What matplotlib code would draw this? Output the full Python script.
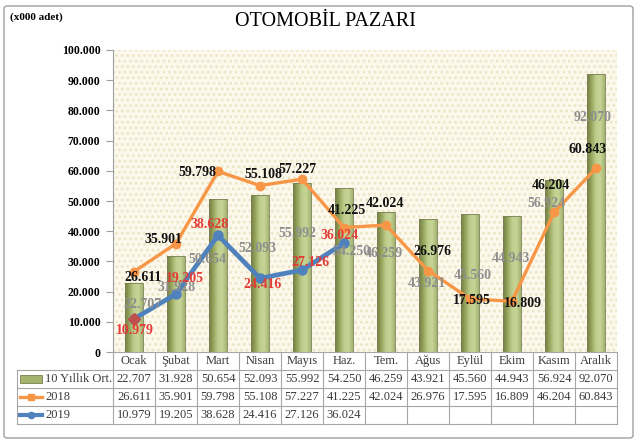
import matplotlib
matplotlib.use("Agg")
import matplotlib.pyplot as plt
import matplotlib.transforms as mtransforms
import numpy as np
from matplotlib.colors import LinearSegmentedColormap
from matplotlib.lines import Line2D
from matplotlib.patches import FancyBboxPatch, Rectangle

plt.rcParams["font.family"] = ["Liberation Serif", "DejaVu Serif"]
plt.rcParams["hatch.linewidth"] = 1.2

months = ["Ocak", "Şubat", "Mart", "Nisan", "Mayıs", "Haz.",
          "Tem.", "Ağus", "Eylül", "Ekim", "Kasım", "Aralık"]
series_names = ["10 Yıllık Ort.", "2018", "2019"]
avg_10y = [22707, 31928, 50654, 52093, 55992, 54250,
           46259, 43921, 45560, 44943, 56924, 92070]
sales_2018 = [26611, 35901, 59798, 55108, 57227, 41225,
              42024, 26976, 17595, 16809, 46204, 60843]
sales_2019 = [10979, 19205, 38628, 24416, 27126, 36024]

# where the data labels were dragged to in the original (x in category units, y in data units)
avg_label_pos = [(0.21, 15600), (1.02, 21200), (1.74, 30500), (2.95, 34400),
                 (3.88, 39400), (5.19, 33400), (5.95, 32600), (6.98, 22800),
                 (8.07, 25200), (8.98, 31100), (9.81, 49300), (10.93, 77500)]
label_pos_2018 = [(0.21, 24800), (0.69, 37100), (1.52, 59300), (3.07, 58900),
                  (3.90, 60300), (5.07, 47000), (5.98, 49300), (7.10, 33400),
                  (8.05, 17200), (9.26, 15900), (9.93, 55000), (10.81, 67200)]
label_pos_2019 = [(0.02, 7000), (1.21, 24500), (1.81, 42100), (3.05, 22500),
                  (4.19, 29800), (4.90, 38700)]

ORANGE = "#F79646"
BLUE = "#4F81BD"
RED_TXT = "#E23B36"
GRAY_TXT = "#8E8E8E"
EDGE = "#A6A6A6"
TABLE_TXT = "#3A3A3A"


def fmt(v):
    return f"{v:,.0f}".replace(",", ".")


fig = plt.figure(figsize=(6.4, 4.44), dpi=100)
fig.patches.append(FancyBboxPatch((4 / 640, 6 / 444), 629 / 640, 432 / 444,
                                  boxstyle="round,pad=0,rounding_size=0.006",
                                  transform=fig.transFigure, facecolor="white",
                                  edgecolor="#A0A0A0", linewidth=1.0, zorder=-10))

ax = fig.add_axes([113 / 640, 92 / 444, 504 / 640, 302 / 444])
ax.set_facecolor("#FCF9EC")
ax.add_patch(Rectangle((0, 0), 1, 1, transform=ax.transAxes, facecolor="none",
                       edgecolor="#ECE5C6", hatch="...", linewidth=0, zorder=0))

x = np.arange(len(months))
cmap = LinearSegmentedColormap.from_list(
    "olive", ["#737C42", "#97A65E", "#BFCE8C", "#C6D497", "#A3B470"])
grad = np.linspace(0, 1, 64).reshape(1, -1)
bars = ax.bar(x, avg_10y, width=0.41, color="none", edgecolor="#7B7F55",
              linewidth=0.6, zorder=2)
for b in bars:
    im = ax.imshow(grad, cmap=cmap, aspect="auto", zorder=1.9,
                   extent=[b.get_x(), b.get_x() + b.get_width(), 0, b.get_height()])
    im.set_clip_path(b)

ax.plot(x, sales_2018, color=ORANGE, linewidth=2.4, marker="o", markersize=6,
        zorder=3, solid_capstyle="round")
x19 = x[:len(sales_2019)]
ax.plot(x19, sales_2019, color=BLUE, linewidth=3.4, marker="o", markersize=6.5,
        zorder=4, solid_capstyle="round")
ax.plot(x19[:1], sales_2019[:1], linestyle="none", marker="D", markersize=6,
        color="#C0504D", zorder=5)

for v, (lx, ly) in zip(avg_10y, avg_label_pos):
    ax.text(lx, ly, fmt(v), ha="center", va="center", fontsize=10,
            fontweight="bold", color=GRAY_TXT, zorder=6)
for v, (lx, ly) in zip(sales_2018, label_pos_2018):
    ax.text(lx, ly, fmt(v), ha="center", va="center", fontsize=10,
            fontweight="bold", color="#111111", zorder=7)
for v, (lx, ly) in zip(sales_2019, label_pos_2019):
    ax.text(lx, ly, fmt(v), ha="center", va="center", fontsize=10,
            fontweight="bold", color=RED_TXT, zorder=7)

ax.set_xlim(-0.5, len(months) - 0.5)
ax.set_ylim(0, 100000)
ax.set_yticks(np.arange(0, 100001, 10000))
ax.set_yticklabels([fmt(t) for t in np.arange(0, 100001, 10000)],
                   fontsize=8.5, fontweight="bold")
ax.tick_params(axis="y", direction="out", length=5, color="#A0A0A0", pad=4)
ax.set_xticks([])
for side in ["top", "right", "bottom"]:
    ax.spines[side].set_visible(False)
ax.spines["left"].set_color("#A0A0A0")

# data table under the plot: x in category units, y in axes units
tr = mtransforms.blended_transform_factory(ax.transData, ax.transAxes)
row_h = 18 / 302
label_left = -0.5 - 96 / 42
right = len(months) - 0.5
rows = [avg_10y, sales_2018, sales_2019]


def tline(xs, ys):
    ax.add_line(Line2D(xs, ys, transform=tr, color=EDGE, linewidth=0.8,
                       clip_on=False, zorder=8))


tline([-0.5, right], [0, 0])
for k in range(1, 5):
    tline([label_left, right], [-k * row_h] * 2)
for k in range(len(months) + 1):
    tline([k - 0.5] * 2, [0, -4 * row_h])
tline([label_left] * 2, [-row_h, -4 * row_h])

for i, m in enumerate(months):
    ax.text(i, -0.5 * row_h, m, transform=tr, ha="center", va="center",
            fontsize=9, color=TABLE_TXT)
for r, vals in enumerate(rows):
    ry = -(r + 1.5) * row_h
    for i, v in enumerate(vals):
        ax.text(i, ry, fmt(v), transform=tr, ha="center", va="center",
                fontsize=9, color=TABLE_TXT)
    ax.text(label_left + 28 / 42, ry, series_names[r], transform=tr, ha="left",
            va="center", fontsize=9, color=TABLE_TXT)

sw0, sw1 = label_left + 3 / 42, label_left + 25 / 42
ry = [-(r + 1.5) * row_h for r in range(3)]
ax.add_patch(Rectangle((sw0, ry[0] - 4 / 302), sw1 - sw0, 8 / 302, transform=tr,
                       clip_on=False, facecolor="#A4B36E", edgecolor="#7B7F55",
                       linewidth=0.6, zorder=8))
ax.add_line(Line2D([sw0, sw1], [ry[1]] * 2, transform=tr, color=ORANGE,
                   linewidth=2.4, clip_on=False, zorder=8))
ax.add_line(Line2D([(sw0 + sw1) / 2], [ry[1]], transform=tr, color=ORANGE,
                   marker="s", markersize=4.5, clip_on=False, zorder=8))
ax.add_line(Line2D([sw0, sw1], [ry[2]] * 2, transform=tr, color=BLUE,
                   linewidth=3, clip_on=False, zorder=8))
ax.add_line(Line2D([(sw0 + sw1) / 2], [ry[2]], transform=tr, color=BLUE,
                   marker="o", markersize=4.5, clip_on=False, zorder=8))

fig.text(325 / 640, 1 - 22 / 444, "OTOMOBİL PAZARI", ha="center", va="center",
         fontsize=14.5)
fig.text(10 / 640, 1 - 17 / 444, "(x000 adet)", ha="left", va="center",
         fontsize=8, fontweight="bold")

fig.savefig("out.png", dpi=100)
